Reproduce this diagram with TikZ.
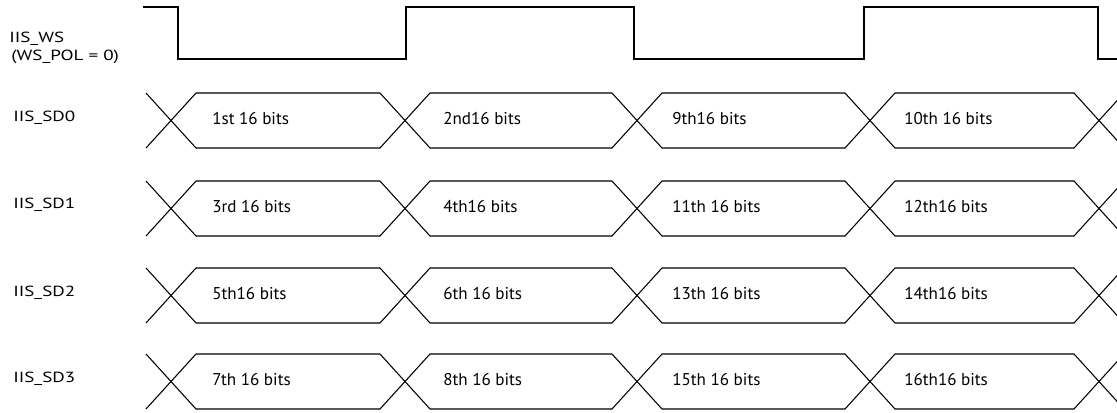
\documentclass[tikz,border=0pt]{standalone}
\usepackage{fontspec}
\setmainfont{PT Sans}
\newfontfamily\sigfont[FakeStretch=1.3]{PT Sans}

\begin{document}
\begin{tikzpicture}[x=0.75pt, y=-0.75pt,
    wave/.style={line width=1.2pt, line join=miter},
    bus/.style={line width=0.8pt, line join=miter},
    signame/.style={anchor=base west, inner sep=0pt, font=\sigfont\fontsize{11}{13}\selectfont},
    bits/.style={anchor=base west, inner sep=0pt, font=\fontsize{12.8}{14}\selectfont}]
          \useasboundingbox (0, 0) rectangle (1117, 412);
          \clip (0, 0) rectangle (1117, 412);
          % word select
          \node[signame] (ws) at (9, 42) {IIS\_WS};
          \node[signame] (wspol) at (11, 60.5) {(WS\_POL = 0)};
          \draw[wave] (143, 7) -- (178, 7) -- (178, 59) -- (406, 59) -- (406, 7) -- (634, 7) -- (634, 59) -- (864, 59) -- (864, 7) -- (1098, 7) -- (1098, 59) -- (1120, 59);
          % data lines
          \node[signame] (sd0) at (13, 121) {IIS\_SD0};
          \draw[bus] (146, 93) -- (196, 148) -- (380, 148) -- (430, 93) -- (612, 93) -- (662, 148) -- (845, 148) -- (895, 93) -- (1074, 93) -- (1124, 148);
          \draw[bus] (146, 148) -- (196, 93) -- (380, 93) -- (430, 148) -- (612, 148) -- (662, 93) -- (845, 93) -- (895, 148) -- (1074, 148) -- (1124, 93);
          \node[bits] (d1) at (212, 124.5) {1st 16 bits};
          \node[bits] (d2) at (443, 124.5) {2nd16 bits};
          \node[bits] (d9) at (672, 124.5) {9th16 bits};
          \node[bits] (d10) at (904, 124.5) {10th 16 bits};
          \node[signame] (sd1) at (13, 208.5) {IIS\_SD1};
          \draw[bus] (146, 181) -- (196, 236) -- (380, 236) -- (430, 181) -- (612, 181) -- (662, 236) -- (845, 236) -- (895, 181) -- (1074, 181) -- (1124, 236);
          \draw[bus] (146, 236) -- (196, 181) -- (380, 181) -- (430, 236) -- (612, 236) -- (662, 181) -- (845, 181) -- (895, 236) -- (1074, 236) -- (1124, 181);
          \node[bits] (d3) at (212, 212.5) {3rd 16 bits};
          \node[bits] (d4) at (443, 212.5) {4th16 bits};
          \node[bits] (d11) at (672, 212.5) {11th 16 bits};
          \node[bits] (d12) at (904, 212.5) {12th16 bits};
          \node[signame] (sd2) at (13, 296) {IIS\_SD2};
          \draw[bus] (146, 268) -- (196, 323) -- (380, 323) -- (430, 268) -- (612, 268) -- (662, 323) -- (845, 323) -- (895, 268) -- (1074, 268) -- (1124, 323);
          \draw[bus] (146, 323) -- (196, 268) -- (380, 268) -- (430, 323) -- (612, 323) -- (662, 268) -- (845, 268) -- (895, 323) -- (1074, 323) -- (1124, 268);
          \node[bits] (d5) at (212, 299.5) {5th16 bits};
          \node[bits] (d6) at (443, 299.5) {6th 16 bits};
          \node[bits] (d13) at (672, 299.5) {13th 16 bits};
          \node[bits] (d14) at (904, 299.5) {14th16 bits};
          \node[signame] (sd3) at (13, 382) {IIS\_SD3};
          \draw[bus] (146, 354) -- (196, 409) -- (380, 409) -- (430, 354) -- (612, 354) -- (662, 409) -- (845, 409) -- (895, 354) -- (1074, 354) -- (1124, 409);
          \draw[bus] (146, 409) -- (196, 354) -- (380, 354) -- (430, 409) -- (612, 409) -- (662, 354) -- (845, 354) -- (895, 409) -- (1074, 409) -- (1124, 354);
          \node[bits] (d7) at (212, 385.5) {7th 16 bits};
          \node[bits] (d8) at (443, 385.5) {8th 16 bits};
          \node[bits] (d15) at (672, 385.5) {15th 16 bits};
          \node[bits] (d16) at (904, 385.5) {16th16 bits};
        \end{tikzpicture}
\end{document}
